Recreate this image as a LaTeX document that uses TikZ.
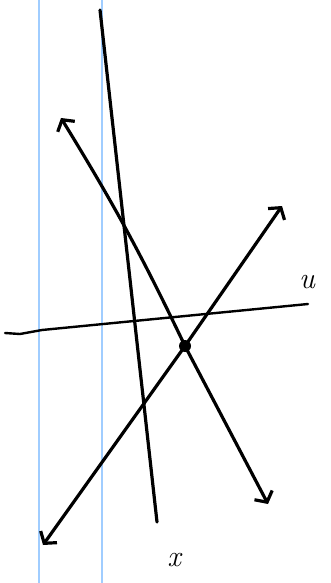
\documentclass[tikz,border=0pt]{standalone}
\usepackage{amsmath,amssymb}
\usepackage{tikz}
\usetikzlibrary{positioning,arrows.meta}

\begin{document}
\begin{tikzpicture}[
  x=1pt, y=-1pt,
  ink/.style={line width=3.2pt, line cap=round, line join=round},
  thin ink/.style={line width=2.4pt, line cap=round, line join=round},
  rule/.style={line width=1.3pt, draw={rgb,255:red,160;green,205;blue,255}},
  arr/.style={ink, {Straight Barb[length=8pt,width=20pt,line width=3.2pt]}-{Straight Barb[length=8pt,width=20pt,line width=3.2pt]}},
  dot/.style={circle, fill, inner sep=0pt, minimum size=12pt},
  lab/.style={font=\fontsize{30}{32}\selectfont\itshape, inner sep=1pt}
]
\useasboundingbox (0,0) rectangle (330,583);
% paper rules
\coordinate (r1t) at (39,0);
\coordinate (r1b) at (39,583);
\coordinate (r2t) at (102,0);
\coordinate (r2b) at (102,583);
\draw[rule] (r1t) -- (r1b);
\draw[rule] (r2t) -- (r2b);
% end points
\coordinate (xt) at (100,10);
\coordinate (xb) at (157,522);
\coordinate (ul) at (5,333);
\coordinate (uk) at (20,334);
\coordinate (ua) at (42,330);
\coordinate (ur) at (308,304);
\coordinate (a1) at (61,118);
\coordinate (a2) at (268,504);
\coordinate (b1) at (43,545);
\coordinate (b2) at (282,206);
\node[dot] (P) at (185,346) {};
% axes
\draw[ink] (xt) -- (xb);
\draw[thin ink] (ul) -- (uk) -- (ua) -- (ur);
\draw[arr] (a1) to[bend left=3] (P.center) -- (a2);
\draw[arr] (b1) -- (P.center) -- (b2);
% labels
\node[lab] (u) at (307,282) {u};
\node[lab] (x) at (174,560) {x};
\end{tikzpicture}
\end{document}
